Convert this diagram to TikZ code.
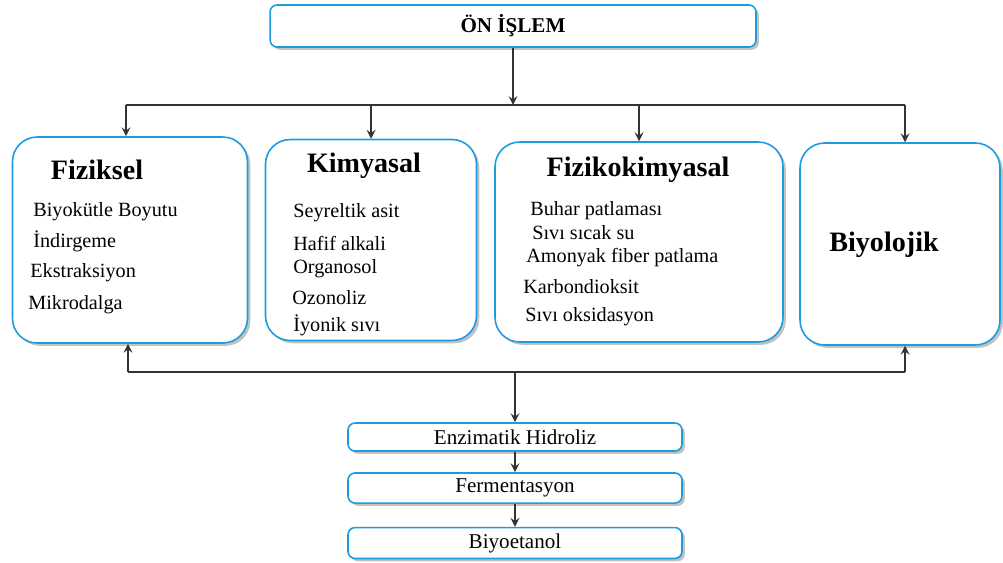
\documentclass[tikz,border=0pt]{standalone}
\usepackage{fontspec}
\setmainfont{Liberation Serif}
\usepackage{xcolor}
\usetikzlibrary{shapes,arrows,positioning,shadows,calc}

\definecolor{boxblue}{HTML}{1E9BE0}
\definecolor{linegray}{HTML}{333333}

\begin{document}
\begin{tikzpicture}[
        x=0.02cm, y=-0.02cm,
        shadowed/.style={drop shadow={shadow xshift=1.6pt, shadow yshift=-1.6pt, fill=gray!80, opacity=0.6}},
        bigbox/.style={rectangle, draw=boxblue, fill=white, line width=0.9pt, rounded corners=14pt, shadowed},
        flatbox/.style={rectangle, draw=boxblue, fill=white, line width=0.9pt, rounded corners=4pt, shadowed, align=center, font=\fontsize{12}{14}\selectfont},
        title/.style={font=\fontsize{16}{18}\selectfont\bfseries},
        item/.style={anchor=west, inner sep=0pt, font=\fontsize{11.5}{13}\selectfont},
        line/.style={draw=linegray, line width=1.2pt},
        arrow/.style={->, draw=linegray, line width=1.2pt, >=stealth}
    ]
    \useasboundingbox (0,0) rectangle (1003,562);

    % Top box
    \node[flatbox, minimum width=9.72cm, minimum height=0.84cm] (onislem) at (513,26) {\textbf{ÖN İŞLEM}};

    % Method boxes
    \node[bigbox, minimum width=4.7cm, minimum height=4.12cm] (fiziksel) at (130,240) {};
    \node[bigbox, minimum width=4.22cm, minimum height=4.02cm] (kimyasal) at (371,240) {};
    \node[bigbox, minimum width=5.76cm, minimum height=4.0cm] (fizikokim) at (639,242) {};
    \node[bigbox, minimum width=4.0cm, minimum height=4.04cm] (biyolojik) at (900,244) {};

    % Titles
    \node[title] (tfiz) at (97,170) {Fiziksel};
    \node[title] (tkim) at (364,166) {Kimyasal};
    \node[title] (tfk) at (638,170) {Fizikokimyasal};
    \node[title] (tbiy) at (884,245) {Biyolojik};

    % Fiziksel items
    \node[item] (f1) at (33,212) {Biyokütle Boyutu};
    \node[item] (f2) at (33,241) {İndirgeme};
    \node[item] (f3) at (30,273) {Ekstraksiyon};
    \node[item] (f4) at (28,305) {Mikrodalga};

    % Kimyasal items
    \node[item] (k1) at (293,213) {Seyreltik asit};
    \node[item] (k2) at (293,243) {Hafif alkali};
    \node[item] (k3) at (293,269) {Organosol};
    \node[item] (k4) at (292,298) {Ozonoliz};
    \node[item] (k5) at (293,325) {İyonik sıvı};

    % Fizikokimyasal items
    \node[item] (fk1) at (530,211) {Buhar patlaması};
    \node[item] (fk2) at (532,233) {Sıvı sıcak su};
    \node[item] (fk3) at (526,258) {Amonyak fiber patlama};
    \node[item] (fk4) at (523,287) {Karbondioksit};
    \node[item] (fk5) at (525,317) {Sıvı oksidasyon};

    % Process chain
    \node[flatbox, minimum width=6.68cm, minimum height=0.56cm] (enzim) at (515,437) {Enzimatik Hidroliz};
    \node[flatbox, minimum width=6.68cm, minimum height=0.58cm] (ferment) at (515,488) {Fermentasyon};
    \node[flatbox, minimum width=6.68cm, minimum height=0.54cm] (biyoet) at (515,543) {Biyoetanol};

    % Bus coordinates
    \coordinate (topbus) at (513,105);
    \coordinate (botbus) at (515,372);

    % Top distribution
    \draw[arrow] (onislem.south) -- (topbus);
    \draw[line] (topbus -| 126,0) -- (topbus -| 905,0);
    \draw[arrow] (topbus -| 126,0) -- (fiziksel.north -| 126,0);
    \draw[arrow] (topbus -| kimyasal) -- (kimyasal.north);
    \draw[arrow] (topbus -| fizikokim) -- (fizikokim.north);
    \draw[arrow] (topbus -| 905,0) -- (biyolojik.north -| 905,0);

    % Bottom collection
    \draw[line] (botbus -| 128,0) -- (botbus -| 905,0);
    \draw[arrow] (botbus -| 128,0) -- (fiziksel.south -| 128,0);
    \draw[arrow] (botbus -| 905,0) -- (biyolojik.south -| 905,0);
    \draw[arrow] (botbus) -- (enzim.north);
    \draw[arrow] (enzim) -- (ferment);
    \draw[arrow] (ferment) -- (biyoet);

\end{tikzpicture}
\end{document}
